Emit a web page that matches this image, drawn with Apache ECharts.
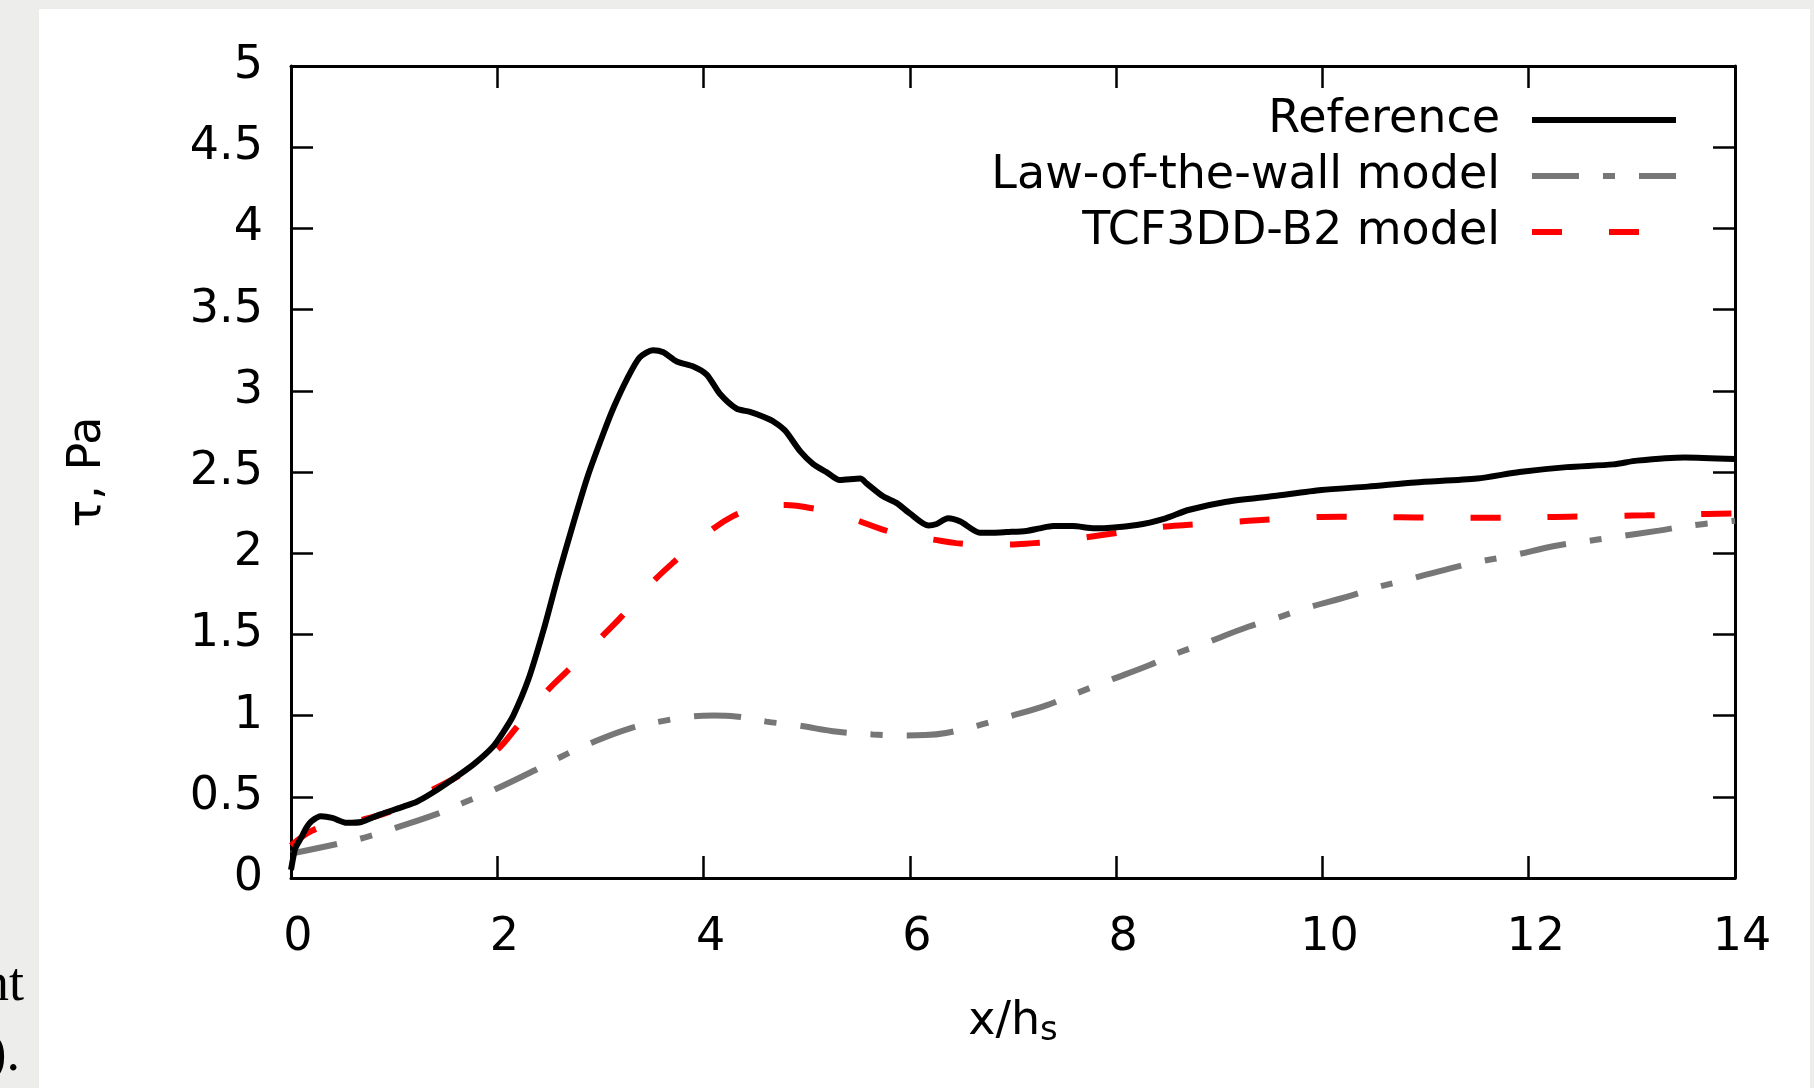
<!DOCTYPE html>
<html>
<head>
<meta charset="utf-8">
<script src="https://cdn.jsdelivr.net/npm/echarts@6/dist/echarts.min.js"></script>
<style>
html, body { margin: 0; padding: 0; background: #edeeec; }
#chart-container { width: 1814px; height: 1088px; }
</style>
</head>
<body>
<div id="chart-container"></div>
<script>
// x/h_s , tau [Pa]
var referenceData = [
  [0.0, 0.05], [0.02, 0.12], [0.04, 0.18], [0.1, 0.25], [0.15, 0.31], [0.2, 0.35],
  [0.29, 0.38], [0.4, 0.37], [0.54, 0.34], [0.68, 0.345], [0.86, 0.39], [1.09, 0.44],
  [1.22, 0.47], [1.36, 0.52], [1.55, 0.6], [1.77, 0.7], [1.96, 0.81], [2.06, 0.9],
  [2.155, 1.0], [2.3, 1.22], [2.45, 1.53], [2.59, 1.86], [2.74, 2.19], [2.88, 2.48],
  [3.03, 2.74], [3.13, 2.9], [3.26, 3.075], [3.38, 3.205], [3.51, 3.25], [3.61, 3.237],
  [3.74, 3.18], [3.9, 3.15], [4.03, 3.1], [4.16, 2.98], [4.32, 2.89], [4.45, 2.87],
  [4.58, 2.84], [4.68, 2.81], [4.79, 2.755], [4.94, 2.625], [5.06, 2.55], [5.19, 2.5],
  [5.32, 2.45], [5.52, 2.46], [5.58, 2.43], [5.74, 2.35], [5.87, 2.31], [6.0, 2.245],
  [6.18, 2.17], [6.26, 2.18], [6.37, 2.215], [6.49, 2.195], [6.68, 2.126], [6.81, 2.126],
  [6.94, 2.13], [7.13, 2.137], [7.26, 2.153], [7.39, 2.167], [7.58, 2.167], [7.79, 2.153],
  [8.2, 2.174], [8.48, 2.215], [8.7, 2.266], [9.07, 2.317], [9.53, 2.352], [9.99, 2.389],
  [10.44, 2.41], [10.9, 2.436], [11.5, 2.46], [11.91, 2.5], [12.37, 2.53], [12.82, 2.547],
  [13.05, 2.57], [13.51, 2.59], [14.0, 2.58]
];

var lawOfWallData = [
  [0.0, 0.15], [0.45, 0.21], [0.72, 0.25], [1.0, 0.306], [1.43, 0.398], [1.66, 0.46],
  [1.96, 0.54], [2.37, 0.665], [2.62, 0.747], [2.9, 0.829], [3.28, 0.92], [3.6, 0.966],
  [3.9, 0.995], [4.1, 1.0], [4.31, 0.995], [4.61, 0.963], [4.91, 0.94], [5.3, 0.9],
  [5.64, 0.884], [5.94, 0.878], [6.15, 0.88], [6.35, 0.893], [6.65, 0.937], [6.94, 0.99],
  [7.33, 1.065], [7.63, 1.141], [7.9, 1.209], [8.32, 1.31], [8.59, 1.384], [8.86, 1.445],
  [9.28, 1.547], [9.55, 1.6], [9.83, 1.66], [10.26, 1.736], [10.53, 1.79], [10.81, 1.835],
  [11.24, 1.907], [11.52, 1.948], [11.82, 1.983], [12.25, 2.044], [12.52, 2.07], [12.82, 2.098],
  [13.26, 2.139], [13.53, 2.167], [14.0, 2.2]
];

var tcfData = [
  [0.0, 0.2], [0.2, 0.29], [0.4, 0.33], [0.7, 0.36], [1.0, 0.42], [1.36, 0.54],
  [1.6, 0.62], [1.8, 0.7], [2.0, 0.79], [2.19, 0.93], [2.48, 1.15], [2.67, 1.27],
  [3.01, 1.485], [3.19, 1.6], [3.51, 1.825], [3.72, 1.95], [4.06, 2.135], [4.29, 2.23],
  [4.5, 2.275], [4.8, 2.297], [5.02, 2.28], [5.25, 2.25], [5.48, 2.204], [5.73, 2.147],
  [6.0, 2.1], [6.2, 2.086], [6.45, 2.062], [6.7, 2.053], [6.94, 2.053], [7.2, 2.062],
  [7.45, 2.075], [7.68, 2.095], [7.95, 2.12], [8.41, 2.16], [8.68, 2.174], [9.16, 2.194],
  [9.41, 2.204], [9.89, 2.222], [10.17, 2.225], [10.63, 2.222], [10.9, 2.22], [11.38, 2.218],
  [11.66, 2.218], [12.11, 2.222], [12.39, 2.225], [12.87, 2.23], [13.14, 2.233], [13.6, 2.24],
  [14.0, 2.245]
];

var seriesNames = ['Reference', 'Law-of-the-wall model', 'TCF3DD-B2 model'];

var dom = document.getElementById('chart-container');
var myChart = echarts.init(dom, null, { renderer: 'canvas' });

var font = 'DejaVu Sans';
var tick = { show: true, inside: true, length: 22, lineStyle: { color: '#000', width: 2.5 } };
var axisLine = { show: true, onZero: false, lineStyle: { color: '#000', width: 3 } };

var option = {
  backgroundColor: '#edeeec',
  animation: false,
  graphic: [
    { type: 'rect', z: -10, shape: { x: 39, y: 9, width: 1771, height: 1079 }, style: { fill: '#fff' } },
    { type: 'text', x: 24, y: 1013, style: { text: 'nt', font: '54px "Liberation Serif"', fill: '#000', textAlign: 'right', textVerticalAlign: 'bottom' } },
    { type: 'text', x: 20, y: 1083, style: { text: ').', font: '54px "Liberation Serif"', fill: '#000', textAlign: 'right', textVerticalAlign: 'bottom' } }
  ],
  grid: { left: 291, right: 79, top: 66, bottom: 210, containLabel: false },
  legend: {
    data: seriesNames,
    orient: 'vertical',
    align: 'right',
    right: 130,
    top: 87,
    itemWidth: 144,
    itemHeight: 14,
    itemGap: 0,
    itemStyle: { opacity: 0 },
    lineStyle: { width: 6 },
    textStyle: { fontFamily: font, fontSize: 46, color: '#000', lineHeight: 56, padding: [0, 27, 0, 0] }
  },
  xAxis: [
    {
      type: 'value', min: 0, max: 14, interval: 2,
      name: '{a|x/h}{s|s}', nameLocation: 'middle', nameGap: 118,
      nameTextStyle: {
        rich: {
          a: { fontFamily: font, fontSize: 46, color: '#000' },
          s: { fontFamily: font, fontSize: 34, color: '#000', padding: [18, 0, 0, 0] }
        }
      },
      axisLine: axisLine, axisTick: tick, splitLine: { show: false },
      axisLabel: { fontFamily: font, fontSize: 46, color: '#000', margin: 37, padding: [0, 0, 0, 14] }
    },
    {
      type: 'value', position: 'top', min: 0, max: 14, interval: 2,
      axisLine: axisLine, axisTick: tick, splitLine: { show: false }, axisLabel: { show: false }
    }
  ],
  yAxis: [
    {
      type: 'value', min: 0, max: 5, interval: 0.5,
      name: 'τ, Pa', nameLocation: 'middle', nameGap: 180,
      nameTextStyle: { fontFamily: font, fontSize: 46, color: '#000' },
      axisLine: axisLine, axisTick: tick, splitLine: { show: false },
      axisLabel: { fontFamily: font, fontSize: 46, color: '#000', margin: 28 }
    },
    {
      type: 'value', position: 'right', min: 0, max: 5, interval: 0.5,
      axisLine: axisLine, axisTick: tick, splitLine: { show: false }, axisLabel: { show: false }
    }
  ],
  series: [
    {
      name: seriesNames[1], type: 'line', data: lawOfWallData, symbol: 'none', smooth: 0.4, z: 3,
      lineStyle: { color: '#777777', width: 6, type: [47, 24, 12, 24] },
      itemStyle: { color: '#777777' }
    },
    {
      name: seriesNames[2], type: 'line', data: tcfData, symbol: 'none', smooth: 0.4, z: 4,
      lineStyle: { color: '#ff0000', width: 6, type: [30, 47] },
      itemStyle: { color: '#ff0000' }
    },
    {
      name: seriesNames[0], type: 'line', data: referenceData, symbol: 'none', smooth: 0.25, z: 5,
      lineStyle: { color: '#000000', width: 6, type: 'solid' },
      itemStyle: { color: '#000000' }
    }
  ]
};

myChart.setOption(option);
window.addEventListener('resize', myChart.resize);
</script>
</body>
</html>
